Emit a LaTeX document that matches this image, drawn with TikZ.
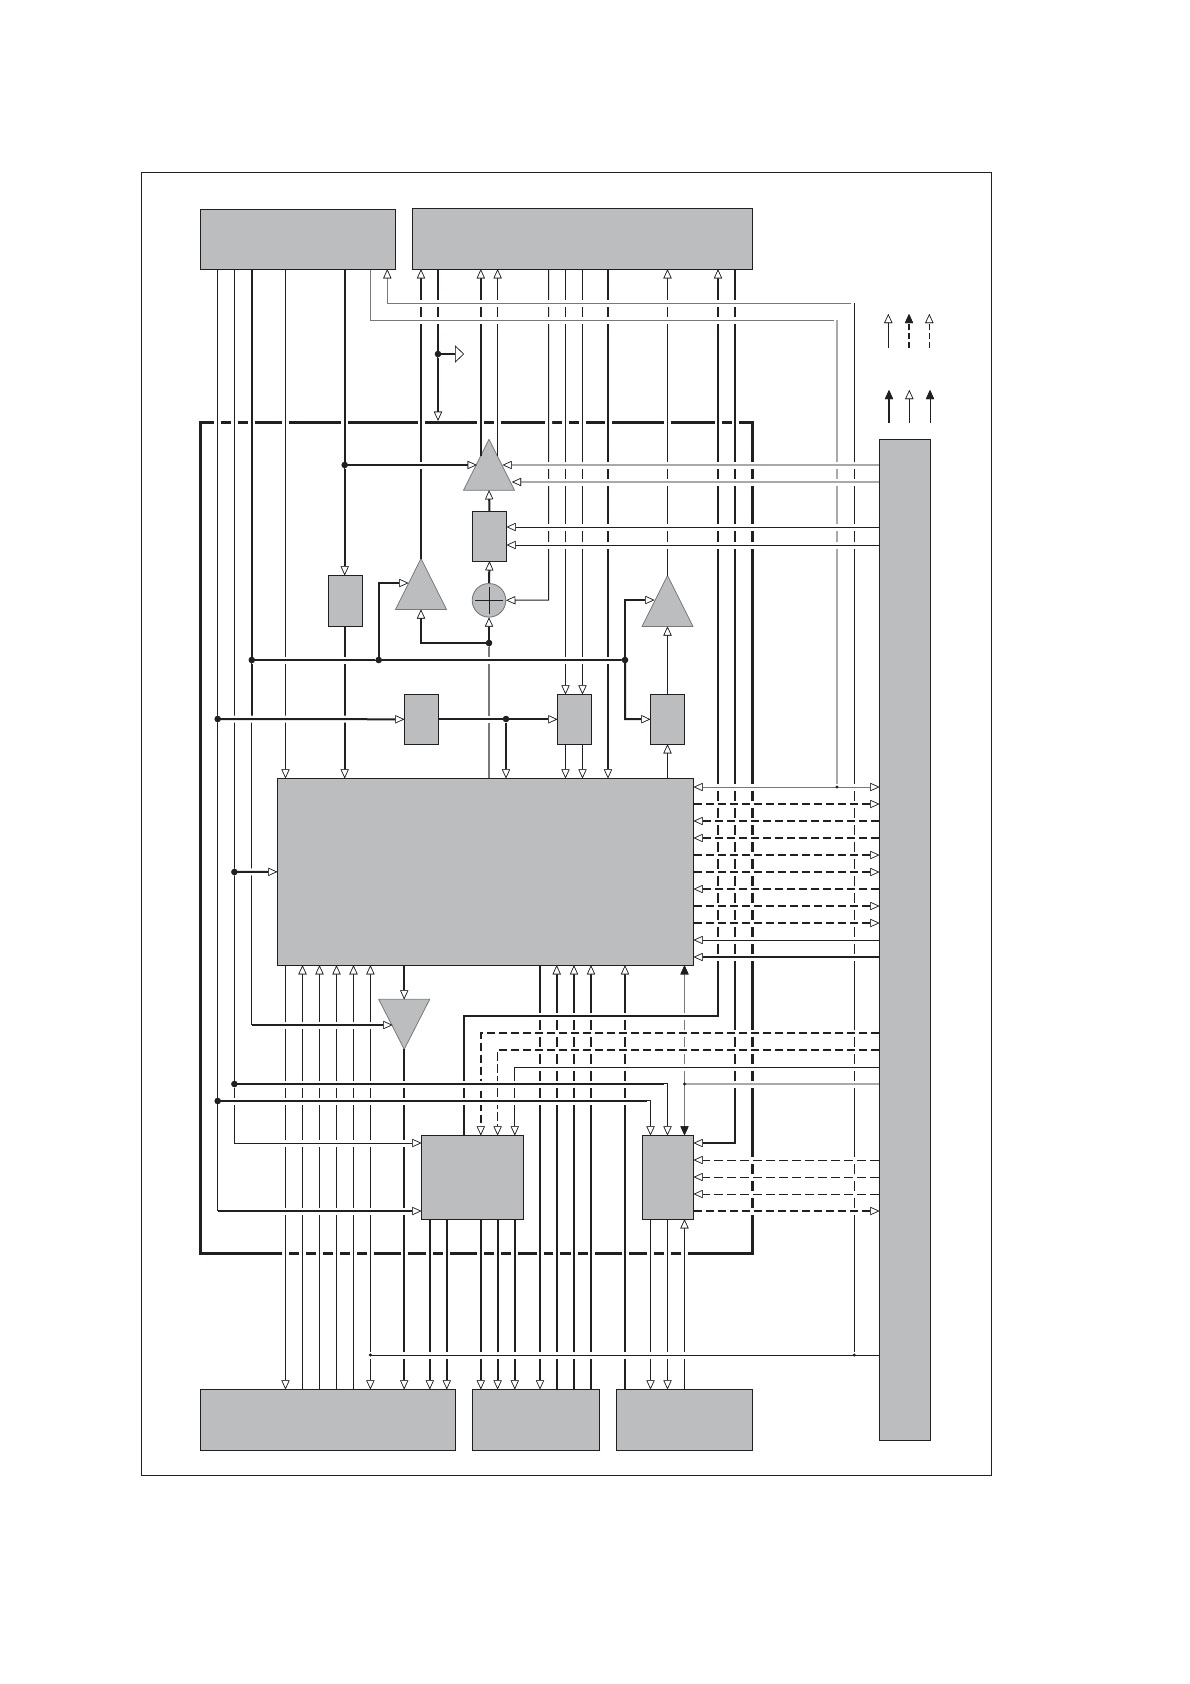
\documentclass[tikz,border=0pt]{standalone}
\usetikzlibrary{arrows.meta,shapes.geometric}
\definecolor{dark}{HTML}{231F20}
\definecolor{blockgray}{HTML}{BBBDBF}
\definecolor{midgray}{HTML}{77787B}
\definecolor{lightgray}{HTML}{A7A9AC}
\tikzset{
  oT/.tip={Triangle[length=9pt,width=8pt,color=dark,fill=white,line width=.6pt]},
  bT/.tip={Triangle[length=9pt,width=8pt,color=dark,fill=dark,line width=.6pt]},
  bigT/.tip={Triangle[length=9pt,width=17pt,color=dark,fill=white,line width=.6pt]},
  blk/.style={draw=dark,fill=blockgray,line width=.9pt,inner sep=0pt,outer sep=0pt},
  tri/.style={draw=midgray,fill=blockgray,line width=.8pt,line join=round,inner sep=0pt,outer sep=0pt,
    isosceles triangle,isosceles triangle stretches,minimum height=51pt,minimum width=51pt},
  halo/.style={preaction={draw=white,line width=7pt,solid}},
  lnA/.style={draw=dark,line width=1pt,halo},
  lnB/.style={draw=dark,line width=1.6pt,halo},
  lnC/.style={draw=dark,line width=2pt,halo},
  lnM/.style={draw=midgray,line width=1pt,halo},
  lnG/.style={draw=lightgray,line width=1.5pt,halo},
  dsA/.style={dash pattern=on 9.5pt off 3.5pt},
  dsC/.style={dash pattern=on 8.5pt off 3.5pt},
  dot/.style={circle,fill=dark,inner sep=0pt,minimum size=6.6pt},
  sdot/.style={circle,fill=dark,inner sep=0pt,minimum size=3.4pt},
}
\newcommand\blk[5]{\node[blk,minimum width={#4pt-#2pt},minimum height={#5pt-#3pt}] (#1) at ({(#2+#4)/2},{(#3+#5)/2}) {};}
\begin{document}
\begin{tikzpicture}[x=1pt,y=-1pt]
\useasboundingbox (0,0) rectangle (1190,1684);
\fill[white] (0,0) rectangle (1190,1684);
\foreach \n/\v in {218/217.7,235/234.4,252/251.8,286/285.5,303/302.5,320/319.5,337/336.5,354/353.5,
  371/370.4,387/387.3,345/344.7,379/378.7,404/404.2,421/421,430/429.8,438/438,447/446.8,
  464/464,481/480.8,489/489,497/497.6,506/506,515/514.8,540/540,548/548.5,557/556.7,565/565.5,574/574,
  582/582.5,591/591,608/608,625/625,651/650.5,668/667.5,685/684.5,718/718,735/735,837/837,854/854.3}
  {\coordinate (x\n) at (\v,0);}
\foreach \n in {303,320,354,432,465,482,527,545,583,600,643,660,719,787,804,821,838,855,872,889,906,923,940,957,
  1016,1025,1033,1050,1067,1084,1101,1143,1160,1177,1194,1211,1355}
  {\coordinate (y\n) at (0,\n);}
% outer frame and dashed-looking box
\node[draw=dark,line width=1pt,inner sep=0pt,minimum width=850.5pt,minimum height=1303pt] (frame) at (566.5,823.5) {};
\node[draw=dark,line width=3.2pt,inner sep=0pt,minimum width=552pt,minimum height=831pt] (box) at (476.3,837.8) {};
% blocks
\blk{TL}{200.3}{209.3}{395.7}{269.3}
\blk{TR}{412.3}{208.3}{752.3}{269.3}
\blk{R}{879.3}{439.3}{930.5}{1440.3}
\blk{M}{277.3}{778.3}{693.7}{965.3}
\blk{K0}{328.3}{575.3}{362.7}{626.3}
\blk{K1}{472.3}{511.3}{506.7}{561.3}
\blk{K2}{404.3}{694.3}{438.7}{744.3}
\blk{K3}{557.3}{694.3}{591.7}{744.3}
\blk{K4}{650.3}{694.3}{684.7}{744.3}
\blk{QQ}{421.3}{1135.3}{523.7}{1219.3}
\blk{BR}{642.3}{1135.3}{693.7}{1219.3}
\blk{B1}{200.4}{1389.3}{455.6}{1450.3}
\blk{B2}{472.3}{1389.3}{599.5}{1450.3}
\blk{B3}{616.6}{1389.3}{752.5}{1450.3}
\node[tri,shape border rotate=90,anchor=apex] (T1) at (489,439.3) {};
\node[tri,shape border rotate=90,anchor=apex] (T2) at (421,558.5) {};
\node[tri,shape border rotate=90,anchor=apex] (T3) at (667.5,575.5) {};
\node[tri,minimum height=50pt,shape border rotate=270,anchor=apex] (T4) at (404.2,1049.3) {};
\node[circle,draw=midgray,fill=blockgray,line width=.9pt,inner sep=0pt,minimum size=33.6pt] (C) at (489,600.3) {};
\draw[dark,line width=.9pt] ([xshift=-13.7pt]C.center) -- ([xshift=13.7pt]C.center);
\draw[dark,line width=.9pt] ([yshift=-13.7pt]C.center) -- ([yshift=13.7pt]C.center);
% free ends
\coordinate (T1in1) at (476.7,465);
\coordinate (T1in2) at (502.7,465);
\coordinate (T1in3) at (512,482);
\coordinate (T1e1) at (480.8,456);
\coordinate (T1e2) at (497.6,456);
\coordinate (T2in) at (408.3,583);
\coordinate (T3in) at (654.3,600);
\coordinate (T4in) at (392.3,1025);
\coordinate (GT) at (464,354);
% vertical lanes
\draw[lnA] (x218|-TL.south) -- (x218|-y1211);
\draw[lnA,-{oT}] (x286|-TL.south) -- (x286|-M.north);
\draw[lnC,-{oT}] (x345|-TL.south) -- (x345|-K0.north);
\draw[lnC,-{oT}] (x345|-K0.south) -- (x345|-M.north);
\draw[lnC] (x252|-TL.south) -- (x252|-y719);
\draw[lnA] (x252|-y719) -- (x252|-y1025);
\draw[lnB,-{oT}] (T2.apex) -- (x421|-TR.south);
\draw[lnC,-{oT}] (x438|-TR.south) -- (x438|-box.north);
\draw[lnB,-{oT}] (x481|-y432) -- (x481|-TR.south);
\draw[lnB,-{oT}] (x497|-y432) -- (x497|-TR.south);
\draw[draw=dark,line width=1.6pt] (T1e1) -- (x481|-y432);
\draw[draw=dark,line width=1.6pt] (T1e2) -- (x497|-y432);
\draw[lnA,-{oT}] (x565|-TR.south) -- (x565|-K3.north);
\draw[lnA,-{oT}] (x582|-TR.south) -- (x582|-K3.north);
\draw[lnA,-{oT}] (x565|-K3.south) -- (x565|-M.north);
\draw[lnA,-{oT}] (x582|-K3.south) -- (x582|-M.north);
\draw[lnC,-{oT}] (x608|-TR.south) -- (x608|-M.north);
\draw[lnA,-{oT}] (T3.apex) -- (x668|-TR.south);
\draw[lnA,-{oT}] (x668|-K4.north) -- (x668|-T3.lower side);
\draw[lnA,-{oT}] (x668|-M.north) -- (x668|-K4.south);
\draw[lnC,-{oT}] (K1.north) -- (T1.lower side);
\draw[lnC,-{oT}] (C.north) -- (K1.south);
\draw[lnC,-{oT}] (x489|-y643) -- (C.south);
\draw[lnB,draw=midgray] (x489|-M.north) -- (x489|-y643);
\draw[lnC,-{oT}] (x506|-y719) -- (x506|-M.north);
\draw[lnC,-{oT}] (x489|-y643) -| (T2.lower side);
\draw[lnA,-{oT}] (x286|-M.south) -- (x286|-B1.north);
\foreach \c in {303,320,337,354}{\draw[lnA,-{oT}] (x\c|-B1.north) -- (x\c|-M.south);}
\draw[lnA,{oT}-{oT}] (x371|-M.south) -- (x371|-B1.north);
\draw[lnC,-{oT}] (x404|-M.south) -- (x404|-T4.lower side);
\draw[lnC,-{oT}] (T4.apex) -- (x404|-B1.north);
\draw[lnC,-{oT}] (x540|-M.south) -- (x540|-B2.north);
\foreach \c in {557,574,591}{\draw[lnC,-{oT}] (x\c|-B2.north) -- (x\c|-M.south);}
\draw[lnC,-{oT}] (x625|-B3.north) -- (x625|-M.south);
\foreach \c in {430,447}{\draw[lnC,-{oT}] (x\c|-QQ.south) -- (x\c|-B1.north);}
\foreach \c in {481,497,515}{\draw[lnC,-{oT}] (x\c|-QQ.south) -- (x\c|-B2.north);}
\foreach \c in {651,668}{\draw[lnA,-{oT}] (x\c|-BR.south) -- (x\c|-B3.north);}
\draw[lnA,-{oT}] (x685|-B3.north) -- (x685|-BR.south);
\draw[lnM,{bT}-{bT}] (x685|-M.south) -- (x685|-BR.north);
% long bent connectors
\draw[lnA,-{oT}] (x235|-TL.south) -- (x235|-y1143) -- (QQ.west|-y1143);
\draw[lnC,{oT}-] (x718|-TR.south) -- (x718|-y1016) -- (x464|-y1016) -- (x464|-QQ.north);
\draw[lnC,-{oT}] (x735|-TR.south) -- (x735|-y1143) -- (BR.east|-y1143);
\draw[lnA,-{oT}] (x548|-TR.south) -- (x548|-y600) -- (C.east);
\draw[lnM] (x371|-TL.south) -- (x371|-y320) -- (x837|-y320);
\draw[lnG] (x837|-y320) -- (x837|-y787);
\draw[lnM,{oT}-] (x387|-TL.south) -- (x387|-y303) -- (x854|-y303);
\draw[lnA] (x854|-y303) -- (x854|-y1355);
% short horizontals
\draw[lnC] (x252|-y660) -- (x625|-y660);
\draw[lnC,-{oT}] (x218|-y719) -- (K2.west);
\draw[lnC,-{oT}] (K2.east) -- (K3.west);
\draw[lnC,-{oT}] (x235|-y872) -- (M.west);
\draw[lnC,-{oT}] (x345|-y465) -- (T1in1);
\draw[lnC,-{oT}] (x379|-y660) -- (x379|-y583) -- (T2in);
\draw[lnC,-{oT}] (x625|-y660) -- (x625|-y600) -- (T3in);
\draw[lnC,-{oT}] (x625|-y660) -- (x625|-y719) -- (K4.west);
\draw[lnC,-{oT}] (x252|-y1025) -- (T4in);
\draw[lnB,-{bigT}] (x438|-y354) -- (GT);
% lines from the right block
\draw[lnG,-{oT}] (R.west|-y465) -- (T1in2);
\draw[lnG,-{oT}] (R.west|-y482) -- (T1in3);
\draw[lnA,-{oT}] (R.west|-y527) -- (K1.east|-y527);
\draw[lnA,-{oT}] (R.west|-y545) -- (K1.east|-y545);
\draw[lnM,{oT}-{oT}] (M.east|-y787) -- (R.west|-y787);
\foreach \r in {804,855,872,906,923}{\draw[lnB,dsC,-{oT}] (M.east|-y\r) -- (R.west|-y\r);}
\foreach \r in {821,838,889}{\draw[lnB,dsC,-{oT}] (R.west|-y\r) -- (M.east|-y\r);}
\draw[lnA,-{oT}] (R.west|-y940) -- (M.east|-y940);
\draw[lnC,-{oT}] (R.west|-y957) -- (M.east|-y957);
\draw[lnB,dsC,-{oT}] (R.west|-y1033) -- (x481|-y1033) -- (x481|-QQ.north);
\draw[lnB,dsC,-{oT}] (R.west|-y1050) -- (x497|-y1050) -- (x497|-QQ.north);
\draw[lnA,-{oT}] (R.west|-y1067) -- (x515|-y1067) -- (x515|-QQ.north);
\draw[lnG,line width=1.1pt] (R.west|-y1084) -- (x685|-y1084);
\draw[lnC] (x235|-y1084) -- (x668|-y1084);
\draw[lnB,line width=1.3pt,-{oT}] (x668|-y1084) -- (x668|-BR.north);
\draw[lnC] (x218|-y1101) -- (x651|-y1101);
\draw[lnB,line width=1.3pt,-{oT}] (x651|-y1101) -- (x651|-BR.north);
\draw[lnC,-{oT}] (x218|-y1211) -- (QQ.west|-y1211);
\foreach \r in {1160,1177,1194}{\draw[lnA,dsA,-{oT}] (R.west|-y\r) -- (BR.east|-y\r);}
\draw[lnB,dsC,-{oT}] (BR.east|-y1211) -- (R.west|-y1211);
\draw[lnA] (R.west|-y1355) -- (x371|-y1355);
% block outlines restored after the white halos
\foreach \n in {TL,TR,R,M,K0,K1,K2,K3,K4,QQ,BR,B1,B2,B3}
  {\draw[dark,line width=.9pt] (\n.north west) rectangle (\n.south east);}
% junction dots
\node[dot] (j1) at (x345|-y465) {};
\node[dot] (j2) at (x438|-y354) {};
\node[dot] (j3) at (x489|-y643) {};
\node[dot] (j4) at (x252|-y660) {};
\node[dot] (j5) at (x379|-y660) {};
\node[dot] (j6) at (x625|-y660) {};
\node[dot] (j7) at (x218|-y719) {};
\node[dot] (j8) at (x506|-y719) {};
\node[dot] (j9) at (x235|-y872) {};
\node[dot] (j10) at (x235|-y1084) {};
\node[dot] (j11) at (x218|-y1101) {};
\node[sdot] (j12) at (x837|-y787) {};
\node[sdot] (j13) at (x685|-y1084) {};
\node[sdot] (j14) at (x854|-y1355) {};
\node[sdot] (j15) at (x371|-y1355) {};
% legend
\coordinate (a1) at (888.3,348); \coordinate (a1t) at (888.3,314);
\coordinate (a2) at (909,348);   \coordinate (a2t) at (909,314);
\coordinate (a3) at (929.3,348); \coordinate (a3t) at (929.3,314);
\coordinate (b1) at (889,423);   \coordinate (b1t) at (889,390);
\coordinate (b2) at (909.3,423); \coordinate (b2t) at (909.3,390);
\coordinate (b3) at (930,423);   \coordinate (b3t) at (930,390);
\draw[lnA,-{oT}] (a1) -- (a1t);
\draw[lnC,dash pattern=on 6pt off 3pt,-{bT}] (a2) -- (a2t);
\draw[lnA,dash pattern=on 6pt off 3pt,-{oT}] (a3) -- (a3t);
\draw[lnC,-{bT}] (b1) -- (b1t);
\draw[lnA,-{oT}] (b2) -- (b2t);
\draw[lnA,-{bT}] (b3) -- (b3t);
\end{tikzpicture}
\end{document}
